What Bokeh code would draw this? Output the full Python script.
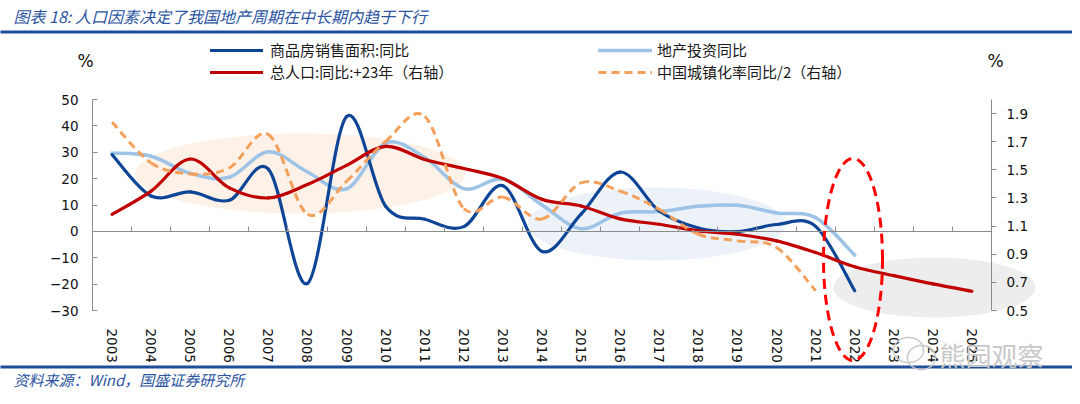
import numpy as np
from bokeh.plotting import figure
from bokeh.models import (Range1d, LinearAxis, FixedTicker, Legend, LegendItem, Label,
                          PolyAnnotation, BoxAnnotation, PrintfTickFormatter)
from bokeh.embed import file_html
from bokeh.resources import INLINE

# ---------------- data ----------------
years = list(range(2003, 2026))
sales_years = list(range(2003, 2023))
sales_area_yoy = [29.1, 13.4, 15.0, 11.8, 23.6, -19.7, 43.5, 9.5, 4.6, 1.8, 17.3, -7.6,
                  6.5, 22.5, 7.7, 1.3, -0.1, 2.6, 1.9, -22.5]
invest_years = list(range(2003, 2023))
invest_yoy = [29.7, 28.5, 22.0, 20.5, 30.2, 22.5, 16.1, 33.5, 28.0, 16.2, 19.8, 10.0,
              1.0, 6.9, 7.5, 9.5, 9.9, 7.0, 5.2, -9.0]
pop_years = list(range(2003, 2026))
pop_yoy_lead23 = [1.184, 1.349, 1.577, 1.372, 1.300, 1.396, 1.532, 1.667, 1.573, 1.509,
                  1.438, 1.290, 1.243, 1.151, 1.113, 1.066, 1.042, 0.995, 0.912, 0.811,
                  0.748, 0.689, 0.637]
urban_years = list(range(2003, 2022))
urban_yoy_half = [1.839, 1.549, 1.471, 1.513, 1.752, 1.184, 1.419, 1.702, 1.880, 1.225,
                  1.306, 1.150, 1.407, 1.349, 1.219, 1.042, 0.995, 0.948, 0.641]

left_ticks = [-30, -20, -10, 0, 10, 20, 30, 40, 50]
right_ticks = [0.5, 0.7, 0.9, 1.1, 1.3, 1.5, 1.7, 1.9]
year_labels = {y: str(y) for y in years}

names = {
    "sales": "商品房销售面积:同比",
    "invest": "地产投资同比",
    "pop": "总人口:同比:+23年（右轴）",
    "urban": "中国城镇化率同比/2（右轴）",
}
title_text = "图表 18:  人口因素决定了我国地产周期在中长期内趋于下行"
source_text = "资料来源：Wind，国盛证券研究所"
watermark_text = "熊园观察"

# ---------------- layout geometry (pixels of the picture) ----------------
W, H = 1072, 396
AL, AR, AT, AB = 92, 991, 99, 310     # where the plotting area lies
X0, X1 = 2002.5, 2025.5               # category extent
Y0, Y1 = -30, 50                      # left axis extent
R0, R1 = 0.5, 2.0                     # right axis extent

xs_per_px = (X1 - X0) / (AR - AL)
ys_per_px = (Y1 - Y0) / (AB - AT)
rs_per_px = (R1 - R0) / (AB - AT)
x_range = Range1d(X0 - AL * xs_per_px, X1 + (W - AR) * xs_per_px)
y_range = Range1d(Y0 - (H - AB) * ys_per_px, Y1 + AT * ys_per_px)
r_range = Range1d(R0 - (H - AB) * rs_per_px, R1 + AT * rs_per_px)


def rx(x):  # picture x pixel -> data x
    return X0 + (x - AL) * xs_per_px


def ry(y):  # picture y pixel -> data y (left axis)
    return Y0 + (AB - y) * ys_per_px


CJK = "Noto Sans CJK SC"
NUM = "DejaVu Sans"
AX = "#8C8C8C"
BLUE_TXT = "#2B55A1"

p = figure(width=W, height=H, output_backend="svg", toolbar_location=None,
           x_range=x_range, y_range=y_range, title=None,
           x_axis_location=None, y_axis_location=None,
           min_border_left=0, min_border_right=0, min_border_top=0, min_border_bottom=0)
p.extra_y_ranges = {"right": r_range}
p.xgrid.visible = False
p.ygrid.visible = False
p.outline_line_color = None
p.background_fill_color = "white"
p.border_fill_color = "white"

# ---------------- axes ----------------
xa = LinearAxis(fixed_location=Y0, ticker=FixedTicker(ticks=years))
xa.major_label_overrides = year_labels
xa.major_label_orientation = "vertical"
xa.axis_line_color = None
xa.major_tick_line_color = None
xa.minor_tick_line_color = None
xa.major_label_standoff = 12
xa.major_label_text_font = NUM
xa.major_label_text_font_size = "13.5px"
xa.major_label_text_color = "#111111"
p.add_layout(xa, "below")

zero_axis = LinearAxis(fixed_location=0, bounds=(X0, X1),
                       ticker=FixedTicker(ticks=[y + 0.5 for y in years[:-1]]))
zero_axis.axis_line_color = AX
zero_axis.major_tick_line_color = AX
zero_axis.major_tick_in = 5
zero_axis.major_tick_out = 0
zero_axis.minor_tick_line_color = None
zero_axis.major_label_text_font_size = "0px"
zero_axis.major_label_text_alpha = 0
p.add_layout(zero_axis, "below")

ya = LinearAxis(fixed_location=X0, bounds=(Y0, Y1), ticker=FixedTicker(ticks=left_ticks))
ya.axis_line_color = AX
ya.major_tick_line_color = AX
ya.major_tick_in = 5
ya.major_tick_out = 0
ya.minor_tick_line_color = None
ya.major_label_standoff = 14
ya.major_label_text_font = NUM
ya.major_label_text_font_size = "13.5px"
ya.major_label_text_color = "#111111"
p.add_layout(ya, "left")

ra = LinearAxis(y_range_name="right", fixed_location=X1, bounds=(R0, R1),
                ticker=FixedTicker(ticks=right_ticks),
                formatter=PrintfTickFormatter(format="%.1f"))
ra.axis_line_color = AX
ra.major_tick_line_color = AX
ra.major_tick_in = 0
ra.major_tick_out = 5
ra.minor_tick_line_color = None
ra.major_label_standoff = 10
ra.major_label_text_font = NUM
ra.major_label_text_font_size = "13.5px"
ra.major_label_text_color = "#111111"
p.add_layout(ra, "right")


# ---------------- highlight ellipses ----------------
def ellipse_poly(box, **kw):
    l, t, r, b = box
    cx, cy = (rx(l) + rx(r)) / 2, (ry(t) + ry(b)) / 2
    a, c = (rx(r) - rx(l)) / 2, (ry(t) - ry(b)) / 2
    th = np.linspace(0, 2 * np.pi, 181)
    return PolyAnnotation(xs=list(cx + a * np.cos(th)), ys=list(cy + c * np.sin(th)), **kw)


p.add_layout(ellipse_poly((135, 133, 465, 213), fill_color="#FDF1E8", fill_alpha=1,
                          line_color=None, level="underlay"))
p.add_layout(ellipse_poly((527, 187, 785, 260), fill_color="#EDF2F9", fill_alpha=1,
                          line_color=None, level="underlay"))
p.add_layout(ellipse_poly((833, 257, 1035, 317), fill_color="#EDEDED", fill_alpha=1,
                          line_color=None, level="underlay"))


# ---------------- smoothed series (Bezier through the data points) ----------------
def bez(xs, ys):
    P = np.column_stack([np.asarray(xs, float), np.asarray(ys, float)])
    n = len(P)
    out = {k: [] for k in ("x0", "y0", "x1", "y1", "cx0", "cy0", "cx1", "cy1")}
    for i in range(n - 1):
        p0 = P[i - 1] if i > 0 else P[i]
        p1, p2 = P[i], P[i + 1]
        p3 = P[i + 2] if i + 2 < n else P[i + 1]
        c1 = p1 + (p2 - p0) / 6.0
        c2 = p2 - (p3 - p1) / 6.0
        out["x0"].append(p1[0]); out["y0"].append(p1[1])
        out["x1"].append(p2[0]); out["y1"].append(p2[1])
        out["cx0"].append(c1[0]); out["cy0"].append(c1[1])
        out["cx1"].append(c2[0]); out["cy1"].append(c2[1])
    return out


r_invest = p.bezier(**bez(invest_years, invest_yoy), line_color="#9DC3E6",
                    line_width=3.5, line_cap="round")
r_sales = p.bezier(**bez(sales_years, sales_area_yoy), line_color="#0E4596",
                   line_width=3.2, line_cap="round")
r_pop = p.bezier(**bez(pop_years, pop_yoy_lead23), y_range_name="right",
                 line_color="#C00000", line_width=3.2, line_cap="round")
r_urban = p.bezier(**bez(urban_years, urban_yoy_half), y_range_name="right",
                   line_color="#F5A05A", line_width=3, line_dash="8 5")

p.add_layout(ellipse_poly((823, 158, 882, 360), fill_color=None, fill_alpha=0,
                          line_color="#FF0000", line_alpha=1,
                          line_width=3, line_dash="10 6", level="annotation"))

# ---------------- legends ----------------
common = dict(padding=0, margin=0, spacing=1, glyph_height=20, label_height=20,
              border_line_color=None, background_fill_alpha=0,
              label_text_font=CJK, label_text_font_size="15px",
              label_text_color="#1A1A1A")
leg_bottom = H - (51 - 10 + 41)
leg1 = Legend(items=[LegendItem(label=names["sales"], renderers=[r_sales]),
                     LegendItem(label=names["pop"], renderers=[r_pop])],
              location=(210, leg_bottom), glyph_width=53, label_standoff=7, **common)
leg2 = Legend(items=[LegendItem(label=names["invest"], renderers=[r_invest]),
                     LegendItem(label=names["urban"], renderers=[r_urban])],
              location=(598, leg_bottom), glyph_width=54, label_standoff=5, **common)
p.add_layout(leg1)
p.add_layout(leg2)

# ---------------- texts and rules ----------------
p.add_layout(Label(x=rx(13), y=ry(15), text=title_text, text_baseline="middle",
                   text_align="left", text_font=CJK, text_font_style="italic",
                   text_font_size="16px", text_color=BLUE_TXT))
p.add_layout(BoxAnnotation(left=rx(-20), right=rx(1100), top=ry(30), bottom=ry(33),
                           fill_color="#1F4E99", fill_alpha=1, line_color=None,
                           level="annotation"))
p.add_layout(BoxAnnotation(left=rx(-20), right=rx(1100), top=ry(365), bottom=ry(368),
                           fill_color="#1F4E99", fill_alpha=1, line_color=None,
                           level="annotation"))
p.add_layout(Label(x=rx(13), y=ry(379), text=source_text, text_baseline="middle",
                   text_align="left", text_font=CJK, text_font_style="italic",
                   text_font_size="15px", text_color=BLUE_TXT))
p.add_layout(Label(x=rx(85), y=ry(60), text="%", text_baseline="middle",
                   text_align="center", text_font=NUM, text_font_size="17px",
                   text_color="#111111"))
p.add_layout(Label(x=rx(995), y=ry(60), text="%", text_baseline="middle",
                   text_align="center", text_font=NUM, text_font_size="17px",
                   text_color="#111111"))

# watermark
p.add_layout(ellipse_poly((893, 337, 923, 362), fill_color=None, fill_alpha=0,
                          line_color="#C8C8C8", line_alpha=1,
                          line_width=1.5, level="annotation"))
p.add_layout(ellipse_poly((907, 345, 935, 369), fill_color=None, fill_alpha=0,
                          line_color="#C8C8C8", line_alpha=1,
                          line_width=1.5, level="annotation"))
p.add_layout(Label(x=rx(939), y=ry(354), text=watermark_text, text_baseline="middle",
                   text_align="left", text_font=CJK, text_font_size="26px",
                   text_color="#C8C8C8"))

open("out.html", "w").write(file_html(p, INLINE))
